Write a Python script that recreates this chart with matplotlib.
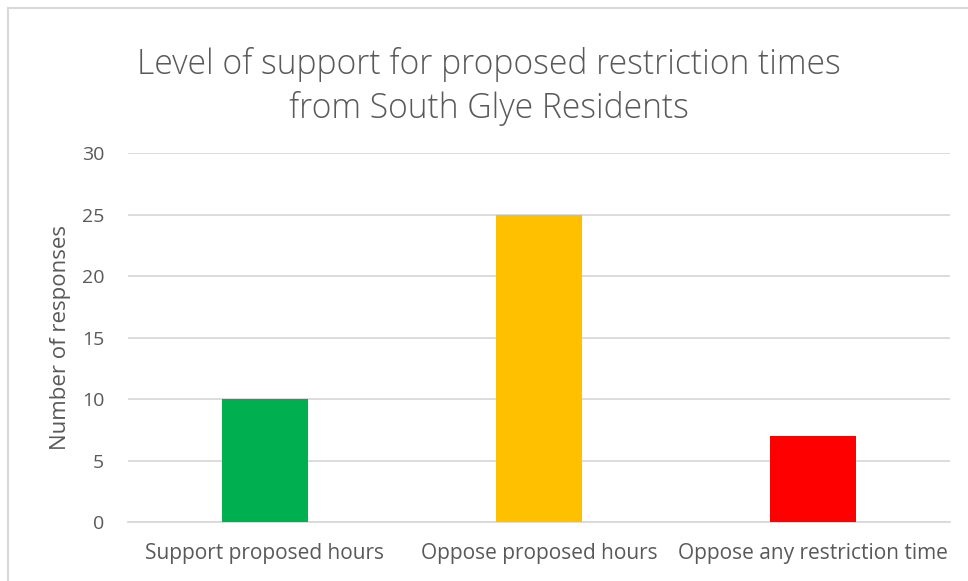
import matplotlib
matplotlib.use("Agg")
from matplotlib import pyplot as plt
from matplotlib.lines import Line2D

categories = ["Support proposed hours", "Oppose proposed hours", "Oppose any restriction time"]
responses = [10, 25, 7]
bar_colors = ["#00B050", "#FFC000", "#FF0000"]
y_ticks = [0, 5, 10, 15, 20, 25, 30]

text_grey = "#595959"
grid_grey = "#D9D9D9"

plt.rcParams['font.family'] = ['Open Sans', 'DejaVu Sans']

fig = plt.figure(figsize=(9.68, 5.81), dpi=100)
ax = fig.add_axes([0.1322, 0.1015, 0.8492, 0.6351])

x = range(len(categories))
ax.bar(x, responses, width=0.315, color=bar_colors, zorder=3)

ax.set_xlim(-0.5, len(categories) - 0.5)
ax.set_ylim(0, 30)
ax.set_yticks(y_ticks)
ax.set_yticklabels([str(t) for t in y_ticks], fontsize=14, color=text_grey)
ax.set_xticks(list(x))
ax.set_xticklabels(categories, fontsize=15, color=text_grey)
ax.tick_params(axis='both', length=0)
ax.tick_params(axis='y', pad=17)
ax.tick_params(axis='x', pad=15)

ax.grid(axis='y', color=grid_grey, linewidth=1.3, zorder=0)
for side in ['top', 'right', 'left']:
    ax.spines[side].set_visible(False)
ax.spines['bottom'].set_color(grid_grey)
ax.spines['bottom'].set_linewidth(1.3)

ax.set_ylabel("Number of responses", fontsize=16, color=text_grey, labelpad=8)

fig.text(0.5055, 0.851, "Level of support for proposed restriction times\nfrom South Glye Residents",
         ha='center', va='center', fontsize=24.2, color=text_grey, linespacing=1.34,
         fontweight='light')

# chart frame, only its left and top edges fall inside the image
fig.add_artist(Line2D([8 / 968, 8 / 968], [0, 1 - 8 / 581], transform=fig.transFigure,
                      color=grid_grey, linewidth=1.5))
fig.add_artist(Line2D([8 / 968, 1], [1 - 8 / 581, 1 - 8 / 581], transform=fig.transFigure,
                      color=grid_grey, linewidth=1.5))

fig.savefig("out.png", dpi=100, facecolor="white")
